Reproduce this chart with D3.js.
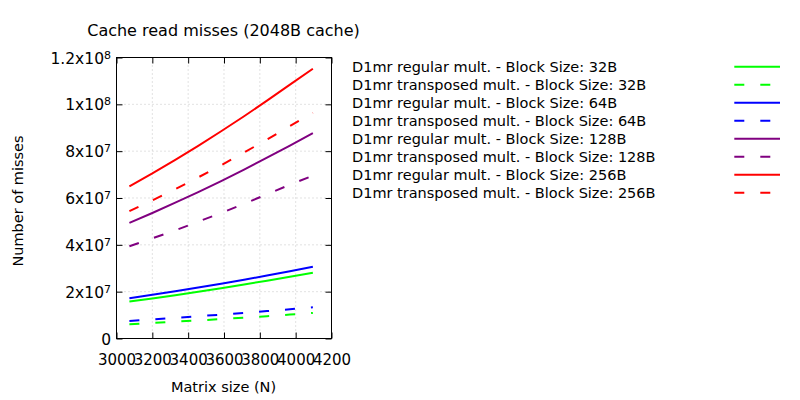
<!DOCTYPE html>
<html><head><meta charset="utf-8">
<script src="https://cdn.jsdelivr.net/npm/d3@7"></script>
<style>body{margin:0;background:#fff}svg{display:block}text{font-family:"DejaVu Sans",sans-serif;fill:#000}</style>
</head><body><svg id="c" width="800" height="400"></svg>
<script>
const sizes = [3072, 3200, 3328, 3456, 3584, 3712, 3840, 3968, 4096];
const reg32  = [15.8, 17.1, 18.5, 20.0, 21.5, 23.1, 24.7, 26.4, 28.1];
const tr32   = [6.1, 6.6, 7.2, 7.7, 8.3, 8.9, 9.5, 10.2, 10.9];
const reg64  = [17.2, 18.7, 20.2, 21.8, 23.4, 25.1, 26.9, 28.7, 30.6];
const tr64   = [7.5, 8.1, 8.8, 9.5, 10.2, 10.9, 11.7, 12.5, 13.3];
const reg128 = [49.4, 53.6, 58.0, 62.5, 67.2, 72.1, 77.2, 82.4, 87.7];
const tr128  = [39.4, 42.8, 46.2, 49.9, 53.6, 57.5, 61.6, 65.7, 69.5];
const reg256 = [65.0, 70.5, 76.3, 82.3, 88.5, 94.9, 101.6, 108.4, 115.2];
const tr256  = [54.4, 59.0, 63.8, 68.8, 74.0, 79.4, 85.0, 90.7, 96.4];
const seriesNames = [
 "D1mr regular mult. - Block Size: 32B","D1mr transposed mult. - Block Size: 32B",
 "D1mr regular mult. - Block Size: 64B","D1mr transposed mult. - Block Size: 64B",
 "D1mr regular mult. - Block Size: 128B","D1mr transposed mult. - Block Size: 128B",
 "D1mr regular mult. - Block Size: 256B","D1mr transposed mult. - Block Size: 256B"];
const seriesVals = [reg32, tr32, reg64, tr64, reg128, tr128, reg256, tr256];
const colors = ["#00ff00","#00ff00","#0000ff","#0000ff","#800080","#800080","#ff0000","#ff0000"];
const xTicks = [3000,3200,3400,3600,3800,4000,4200];
const yTicks = [0,2e7,4e7,6e7,8e7,1e8,1.2e8];
const yTickLabels = [["0",""],["2x10","7"],["4x10","7"],["6x10","7"],["8x10","7"],["1x10","8"],["1.2x10","8"]];

const svg = d3.select("#c");
const L=116.5, R=331.5, T=57.5, B=338.5;
const x = d3.scaleLinear().domain([3000,4200]).range([L,R]);
const y = d3.scaleLinear().domain([0,1.2e8]).range([B,T]);

// grid
const g = svg.append("g");
xTicks.slice(1,-1).forEach(t=>g.append("line").attr("x1",x(t)).attr("x2",x(t)).attr("y1",T).attr("y2",B)
  .attr("stroke","#a0a0a0").attr("stroke-width",0.6).attr("stroke-dasharray","1,3"));
yTicks.slice(1,-1).forEach(t=>g.append("line").attr("x1",L).attr("x2",R).attr("y1",y(t)).attr("y2",y(t))
  .attr("stroke","#a0a0a0").attr("stroke-width",0.6).attr("stroke-dasharray","1,3"));

// axes with inward ticks
const ax = svg.append("g").attr("transform",`translate(0,${B})`).call(d3.axisBottom(x).tickValues(xTicks).tickSize(-6).tickFormat(d=>d).tickPadding(16));
const axT = svg.append("g").attr("transform",`translate(0,${T})`).call(d3.axisTop(x).tickValues(xTicks).tickSize(-6).tickFormat(""));
const ay = svg.append("g").attr("transform",`translate(${L},0)`).call(d3.axisLeft(y).tickValues(yTicks).tickSize(-6).tickFormat(""));
const ayR = svg.append("g").attr("transform",`translate(${R},0)`).call(d3.axisRight(y).tickValues(yTicks).tickSize(-6).tickFormat(""));
[ax,axT,ay,ayR].forEach(a=>{a.select(".domain").remove();a.selectAll("line").attr("stroke","#000");});
ax.selectAll("text").attr("font-size",15).attr("font-family","DejaVu Sans").attr("fill","#000");
svg.append("rect").attr("x",L).attr("y",T).attr("width",R-L).attr("height",B-T).attr("fill","none").attr("stroke","#000");

// y tick labels with superscripts
yTicks.forEach((t,i)=>{
  const tx = svg.append("text").attr("x",111).attr("y",y(t)+6).attr("text-anchor","end").attr("font-size",15.5);
  tx.append("tspan").text(yTickLabels[i][0]);
  if(yTickLabels[i][1]) tx.append("tspan").attr("dy",-5).attr("font-size",11).text(yTickLabels[i][1]);
});

// lines
const line = d3.line().x((d,i)=>x(sizes[i])).y(d=>y(d*1e6));
seriesVals.forEach((vals,i)=>{
  svg.append("path").datum(vals).attr("d",line).attr("fill","none").attr("stroke",colors[i])
    .attr("stroke-width",2).attr("stroke-dasharray", i%2 ? "10,16" : null);
});

// titles
svg.append("text").attr("x",223.5).attr("y",35.5).attr("text-anchor","middle").attr("font-size",16).text("Cache read misses (2048B cache)");
svg.append("text").attr("transform","translate(23.3,201) rotate(-90)").attr("text-anchor","middle").attr("font-size",14.5).text("Number of misses");
svg.append("text").attr("x",223.5).attr("y",392).attr("text-anchor","middle").attr("font-size",14.5).text("Matrix size (N)");

// legend
seriesNames.forEach((n,i)=>{
  const yy = 66.7 + i*18;
  svg.append("text").attr("x",352).attr("y",yy+5.6).attr("font-size",14.5).text(n);
  svg.append("line").attr("x1",734.3).attr("x2",780).attr("y1",yy).attr("y2",yy).attr("stroke",colors[i])
    .attr("stroke-width",2).attr("stroke-dasharray", i%2 ? "10,16" : null);
});
</script></body></html>
